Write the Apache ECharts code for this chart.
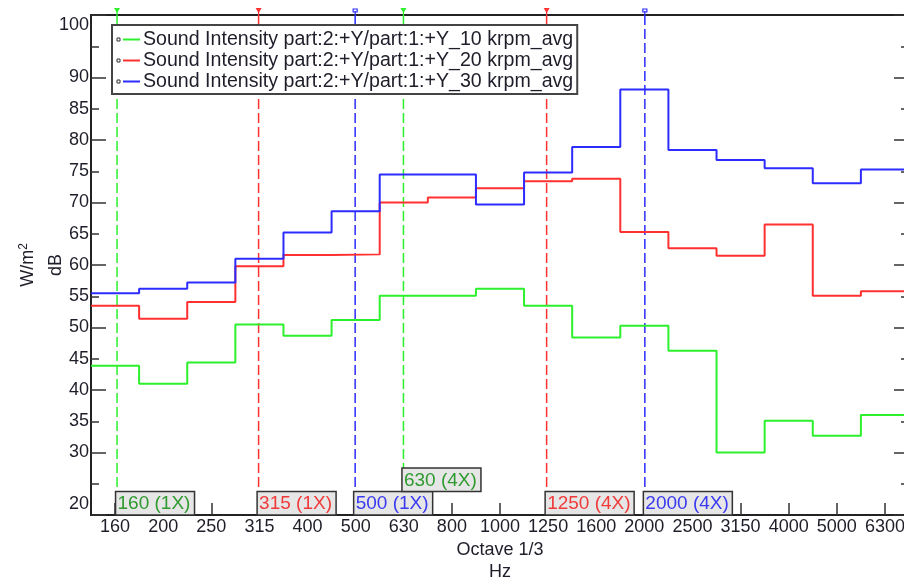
<!DOCTYPE html>
<html><head><meta charset="utf-8">
<script src="https://cdn.jsdelivr.net/npm/echarts@6/dist/echarts.min.js"></script>
<style>html,body{margin:0;padding:0;background:#fff}#c{width:904px;height:579px}</style>
</head><body><div id="c"></div>
<script>
// ---- data ----
const bandLabels = ['160','200','250','315','400','500','630','800','1000','1250','1600','2000','2500','3150','4000','5000','6300'];
const firstBand = 22; // 1/3-octave band number of the first band (10*log10 f)
const seriesNames = [
  'Sound Intensity part:2:+Y/part:1:+Y_10 krpm_avg',
  'Sound Intensity part:2:+Y/part:1:+Y_20 krpm_avg',
  'Sound Intensity part:2:+Y/part:1:+Y_30 krpm_avg'
];
const int10 = [43.9, 41.0, 44.4, 50.5, 48.7, 51.2, 55.1, 55.1, 56.2, 53.5, 48.4, 50.3, 46.3, 30.0, 35.1, 32.7, 36.0];
const int20 = [53.5, 51.4, 54.1, 59.8, 61.6, 61.7, 70.0, 70.8, 72.3, 73.4, 73.8, 65.3, 62.7, 61.5, 66.5, 55.1, 55.8];
const int30 = [55.5, 56.2, 57.2, 61.0, 65.2, 68.6, 74.5, 74.5, 69.7, 74.8, 78.9, 88.1, 78.4, 76.8, 75.5, 73.1, 75.3];
const cursorFreqs = [160, 315, 500, 630, 1250, 2000];
const cursorOrders = ['1X', '1X', '1X', '4X', '4X', '4X'];
const cursorSeries = [0, 1, 2, 0, 1, 2];
const yMin = 20, yMax = 100;
const yLabelValues = [20, 30, 35, 40, 45, 50, 55, 60, 65, 70, 75, 80, 85, 90, 100];

// ---- styles ----
const FONT = '"Liberation Sans", Arial, sans-serif';
const lineColors = ['#2cf02c', '#ff3030', '#2c2cff'];
const textColors = ['#2f9a2f', '#f03a3a', '#3a3af0'];
const axisColor = '#222';

function stepData(vals) {
  const out = [];
  vals.forEach((v, i) => { const c = firstBand + i; out.push([c - 0.5, v], [c + 0.5, v]); });
  return out;
}

const measureCtx = document.createElement('canvas').getContext('2d');
let placed = [];
function renderCursor(params, api) {
  if (params.dataIndexInside === 0) placed = [];
  const idx = params.dataIndex;
  const si = cursorSeries[idx];
  const px = api.coord([api.value(0), api.value(1)])[0];
  const cs = params.coordSys;
  const top = cs.y, bottom = cs.y + cs.height;
  const label = cursorFreqs[idx] + ' (' + cursorOrders[idx] + ')';
  const font = '19px ' + FONT;
  measureCtx.font = font;
  const w = Math.round(measureCtx.measureText(label).width + 6);
  const h = 23.5;
  const bx = px - 1.5;
  let row = 0;
  while (placed.some(b => b.row === row && bx < b.x1 && bx + w > b.x0)) row++;
  placed.push({ row: row, x0: bx, x1: bx + w });
  const boxTop = bottom - h * (row + 1);
  const children = [
    { type: 'line', shape: { x1: px, y1: top, x2: px, y2: boxTop },
      style: { stroke: lineColors[si], lineWidth: 1.5, lineDash: [10, 4] } },
    { type: 'rect', shape: { x: bx, y: boxTop, width: w, height: h },
      style: { fill: '#e6e6e6', stroke: '#333', lineWidth: 1.5 } },
    { type: 'text', x: bx + 2, y: boxTop + h / 2 + 1,
      style: { text: label, fill: textColors[si], font: font, align: 'left', verticalAlign: 'middle' } }
  ];
  if (si === 2) {
    children.push({ type: 'rect', shape: { x: px - 2, y: top - 6, width: 4, height: 3 },
      style: { fill: 'none', stroke: lineColors[si], lineWidth: 1.2 } });
  } else {
    children.push({ type: 'polygon', shape: { points: [[px - 3, top - 7], [px + 3, top - 7], [px, top - 2]] },
      style: { fill: lineColors[si] } });
  }
  children.push({ type: 'line', shape: { x1: px, y1: top - 4, x2: px, y2: top },
    style: { stroke: lineColors[si], lineWidth: 1.2 } });
  return { type: 'group', children: children };
}

const richLegend = {
  sq: { width: 3, height: 3, borderColor: '#333', borderWidth: 1 },
  sp: { width: 3 },
  sp2: { width: 3 }
};
lineColors.forEach((c, i) => { richLegend['l' + i] = { width: 17, height: 2, backgroundColor: c }; });

const chart = echarts.init(document.getElementById('c'), null, { renderer: 'canvas' });
const option = {
  animation: false,
  backgroundColor: '#fff',
  grid: { left: 91, right: -5, top: 15, bottom: 64, show: true, borderColor: axisColor, borderWidth: 2,
          backgroundColor: 'transparent', outerBoundsMode: 'none', containLabel: false },
  legend: {
    data: seriesNames, orient: 'vertical', left: 112, top: 25,
    itemWidth: 0, itemHeight: 0, itemGap: 0, icon: 'rect', itemStyle: { opacity: 0 },
    backgroundColor: '#fff', borderColor: '#444', borderWidth: 2, borderRadius: 0,
    padding: [4, 4, 2, 0], selectedMode: false,
    formatter: name => { const i = seriesNames.indexOf(name); return '{sq|}{sp|}{l' + i + '|}{sp2|}' + name; },
    textStyle: { fontFamily: FONT, fontSize: 19.6, color: '#1e1e2a', lineHeight: 21, rich: richLegend }
  },
  xAxis: {
    type: 'value', min: firstBand - 0.5, max: firstBand + bandLabels.length - 0.5,
    splitLine: { show: false },
    axisLine: { show: true, lineStyle: { color: axisColor, width: 2 } },
    axisTick: { show: true, inside: true, length: 12, lineStyle: { color: '#333', width: 1.5 },
                customValues: bandLabels.map((_, i) => firstBand + i) },
    axisLabel: { customValues: bandLabels.map((_, i) => firstBand + i), margin: 3,
                 formatter: v => bandLabels[Math.round(v) - firstBand],
                 fontFamily: FONT, fontSize: 18, color: '#1e1e2a', hideOverlap: false, showMinLabel: true, showMaxLabel: true },
    name: 'Octave 1/3\nHz', nameLocation: 'middle', nameGap: 24, nameMoveOverlap: false,
    nameTextStyle: { fontFamily: FONT, fontSize: 18, color: '#1e1e2a', lineHeight: 22, verticalAlign: 'top' }
  },
  yAxis: [{
    type: 'value', min: yMin, max: yMax, interval: 10, position: 'left',
    splitLine: { show: false },
    axisLine: { show: true, lineStyle: { color: axisColor, width: 2 } },
    axisTick: { show: true, inside: true, length: 15, lineStyle: { color: '#333', width: 1.5 } },
    minorTick: { show: true, splitNumber: 2, length: 8, lineStyle: { color: '#333', width: 1.5 } },
    axisLabel: {
      customValues: yLabelValues, margin: 2, fontFamily: FONT, fontSize: 18, color: '#1e1e2a',
      showMinLabel: true, showMaxLabel: true, hideOverlap: false,
      formatter: v => v === yMax ? '{top|' + v + '}' : (v === yMin ? '{bot|' + v + '}' : String(v)),
      rich: { top: { padding: [20, 0, 0, 0], fontSize: 18, fontFamily: FONT, color: '#1e1e2a' },
              bot: { padding: [0, 0, 22, 0], fontSize: 18, fontFamily: FONT, color: '#1e1e2a' } }
    },
    name: '{u|W/m}{s|2}\n{d|dB}', nameLocation: 'middle', nameGap: 21, nameRotate: 90, nameMoveOverlap: false,
    nameTextStyle: { fontFamily: FONT, fontSize: 18, color: '#1e1e2a', lineHeight: 28,
      rich: { u: { fontSize: 18, fontFamily: FONT, color: '#1e1e2a', lineHeight: 28 },
              s: { fontSize: 12, fontFamily: FONT, color: '#1e1e2a', lineHeight: 28, padding: [0, 0, 8, 0] },
              d: { fontSize: 18, fontFamily: FONT, color: '#1e1e2a', lineHeight: 28 } } }
  }, {
    type: 'value', min: yMin, max: yMax, interval: 10, position: 'right',
    splitLine: { show: false },
    axisLine: { show: true, lineStyle: { color: axisColor, width: 2 } },
    axisTick: { show: true, inside: true, length: 15, lineStyle: { color: '#333', width: 1.5 } },
    minorTick: { show: true, splitNumber: 2, length: 8, lineStyle: { color: '#333', width: 1.5 } },
    axisLabel: { show: false }
  }],
  series: [
    { name: seriesNames[0], type: 'line', data: stepData(int10), symbol: 'none',
      lineStyle: { color: lineColors[0], width: 2 }, itemStyle: { color: lineColors[0] }, z: 3 },
    { name: seriesNames[1], type: 'line', data: stepData(int20), symbol: 'none',
      lineStyle: { color: lineColors[1], width: 2 }, itemStyle: { color: lineColors[1] }, z: 3 },
    { name: seriesNames[2], type: 'line', data: stepData(int30), symbol: 'none',
      lineStyle: { color: lineColors[2], width: 2 }, itemStyle: { color: lineColors[2] }, z: 3 },
    { name: 'cursors', type: 'custom', renderItem: renderCursor, clip: false, z: 2,
      data: cursorFreqs.map(f => [10 * Math.log10(f), yMin]), encode: { x: 0, y: 1 }, silent: true }
  ]
};
chart.setOption(option);
</script>
</body></html>
